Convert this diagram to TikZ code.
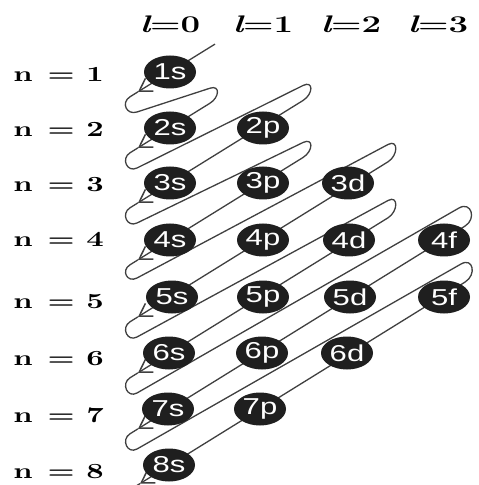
\documentclass[tikz,border=0pt]{standalone}
\usepackage{fontspec}
\usepackage{graphicx}
\newfontfamily\orbfont{Liberation Sans}
\usetikzlibrary{calc,arrows.meta,shapes.geometric}
\newcommand\hstretch[2]{\scalebox{#1}[1]{#2}}
\begin{document}
\begin{tikzpicture}[x=0.5pt,y=-0.5pt,
  wire/.style={draw=black!75,line width=0.65pt},
  tipend/.style={-{Straight Barb[length=6pt,width=7.5pt,line width=0.75pt]}},
  orb/.style={ellipse,fill=black!88,minimum width=26pt,minimum height=16.5pt,inner sep=0pt,text=white,font=\orbfont\fontsize{11.5}{13}\selectfont},
  rowlab/.style={anchor=base west,inner sep=0pt,font=\bfseries\fontsize{10.8}{12}\selectfont},
  collab/.style={anchor=base,inner sep=0pt,font=\bfseries\fontsize{12}{14}\selectfont}]
\clip (0,0) rectangle (478,485);
\fill[white] (0,0) rectangle (478,485);
% serpentine coordinates
\coordinate (B1) at (215,44.1);
\coordinate (T1) at (138,91.8);  \coordinate (C1) at (130,96.8);  \coordinate (D1) at (137,112);
\coordinate (A2) at (210,88.2);  \coordinate (B2) at (210,103.2);
\coordinate (T2) at (138,147.8); \coordinate (C2) at (130,152.8); \coordinate (D2) at (137,168);
\coordinate (A3) at (303,85.5);  \coordinate (B3) at (303,100.5);
\coordinate (T3) at (138,202.8); \coordinate (C3) at (130,207.8); \coordinate (D3) at (137,223);
\coordinate (A4) at (303,142.5); \coordinate (B4) at (303,157.5);
\coordinate (T4) at (138,259.8); \coordinate (C4) at (130,264.8); \coordinate (D4) at (137,278);
\coordinate (A5) at (388,144.5); \coordinate (B5) at (388,161.8);
\coordinate (T5) at (138,316.8); \coordinate (C5) at (130,321.8); \coordinate (D5) at (137,337);
\coordinate (A6) at (388,200.5); \coordinate (B6) at (388,217.8);
\coordinate (T6) at (138,372.8); \coordinate (C6) at (130,377.8); \coordinate (D6) at (137,393);
\coordinate (A7) at (459,208);   \coordinate (B7) at (465,226.1);
\coordinate (T7) at (138,428.8); \coordinate (C7) at (130,433.8); \coordinate (D7) at (137,449);
\coordinate (A8) at (461,264);   \coordinate (B8) at (465,282.1);
\coordinate (T8) at (140,483.6); \coordinate (E8) at (122,494.8);
% hairpin loops
\foreach \k/\j/\c in {1/2/5.5pt,2/3/6pt,3/4/6pt,4/5/6pt,5/6/6pt,6/7/7pt,7/8/7pt}{
  \draw[wire] (T\k) -- (C\k)
    .. controls ($(C\k)!-5.5pt!(T\k)$) and ($(D\k)!-5.5pt!(A\j)$) .. (D\k)
    -- (A\j)
    .. controls ($(A\j)!-\c!(D\k)$) and ($(B\j)!-\c!(T\j)$) .. (B\j);
}
% diagonals with arrows
\foreach \k in {1,...,8}{
  \draw[wire,tipend] (B\k) -- (T\k);
}
\draw[wire] (T8) -- (E8);
% orbitals
\node[orb] (o1s) at (170,72)  {\hstretch{1.35}{1s}};
\node[orb] (o2s) at (170,128) {\hstretch{1.35}{2s}};
\node[orb] (o3s) at (170,183) {\hstretch{1.35}{3s}};
\node[orb] (o4s) at (170,240) {\hstretch{1.35}{4s}};
\node[orb] (o5s) at (172,297) {\hstretch{1.35}{5s}};
\node[orb] (o6s) at (169,353) {\hstretch{1.35}{6s}};
\node[orb] (o7s) at (168,409) {\hstretch{1.35}{7s}};
\node[orb] (o8s) at (169,465) {\hstretch{1.35}{8s}};
\node[orb] (o2p) at (263,128) {\hstretch{1.35}{2p}};
\node[orb] (o3p) at (263,183) {\hstretch{1.35}{3p}};
\node[orb] (o4p) at (263,240) {\hstretch{1.35}{4p}};
\node[orb] (o5p) at (263,297) {\hstretch{1.35}{5p}};
\node[orb] (o6p) at (262,353) {\hstretch{1.35}{6p}};
\node[orb] (o7p) at (260,409) {\hstretch{1.35}{7p}};
\node[orb] (o3d) at (348,183) {\hstretch{1.35}{3d}};
\node[orb] (o4d) at (349,240) {\hstretch{1.35}{4d}};
\node[orb] (o5d) at (350,297) {\hstretch{1.35}{5d}};
\node[orb] (o6d) at (347,353) {\hstretch{1.35}{6d}};
\node[orb] (o4f) at (444,240) {\hstretch{1.35}{4f}};
\node[orb] (o5f) at (444,297) {\hstretch{1.35}{5f}};
% row labels
\node[rowlab] (n1) at (13,82)  {\hstretch{1.4}{n\hspace{5.3pt}=\hspace{4.2pt}1}};
\node[rowlab] (n2) at (13,137) {\hstretch{1.4}{n\hspace{5.3pt}=\hspace{4.2pt}2}};
\node[rowlab] (n3) at (13,192) {\hstretch{1.4}{n\hspace{5.3pt}=\hspace{4.2pt}3}};
\node[rowlab] (n4) at (13,247) {\hstretch{1.4}{n\hspace{5.3pt}=\hspace{4.2pt}4}};
\node[rowlab] (n5) at (13,308) {\hstretch{1.4}{n\hspace{5.3pt}=\hspace{4.2pt}5}};
\node[rowlab] (n6) at (13,365) {\hstretch{1.4}{n\hspace{5.3pt}=\hspace{4.2pt}6}};
\node[rowlab] (n7) at (13,422) {\hstretch{1.4}{n\hspace{5.3pt}=\hspace{4.2pt}7}};
\node[rowlab] (n8) at (13,478) {\hstretch{1.4}{n\hspace{5.3pt}=\hspace{4.2pt}8}};
% column labels
\node[collab] (l0) at (170,33) {\hstretch{1.45}{{\itshape l}=0}};
\node[collab] (l1) at (263,33) {\hstretch{1.45}{{\itshape l}=1}};
\node[collab] (l2) at (351,33) {\hstretch{1.45}{{\itshape l}=2}};
\node[collab] (l3) at (438,33) {\hstretch{1.45}{{\itshape l}=3}};
\end{tikzpicture}
\end{document}
